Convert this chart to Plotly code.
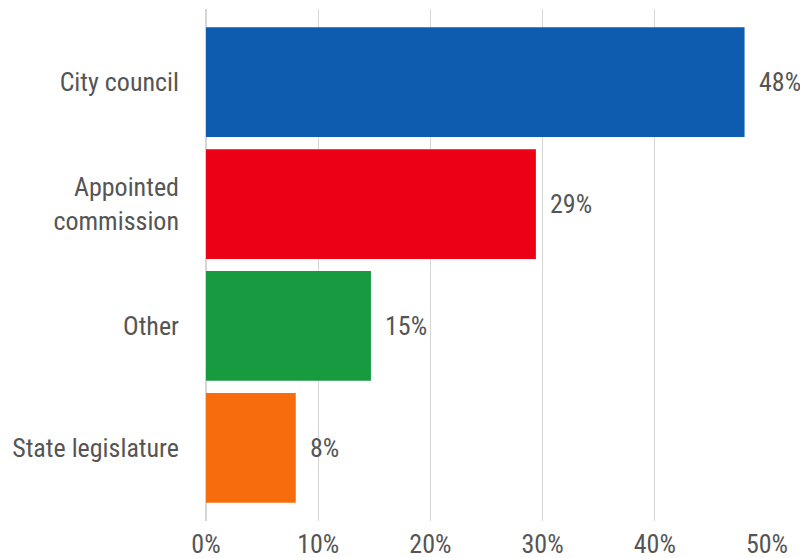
import plotly.graph_objects as go

# Who appoints the board: share of responses
categories = ["City council", "Appointed<br>commission", "Other", "State legislature"]
shares = [48.0, 29.4, 14.7, 8.0]
bar_colors = ["#0d5caf", "#ec0016", "#189a41", "#f76d0d"]
tick_values = [0, 10, 20, 30, 40, 50]
tick_labels = ["0%", "10%", "20%", "30%", "40%", "50%"]

FONT = "Roboto Condensed, Roboto, sans-serif"
TEXT_COLOR = "#555555"
SIZE = 26

fig = go.Figure(
    go.Bar(
        x=shares,
        y=categories,
        orientation="h",
        marker=dict(color=bar_colors, line=dict(width=0)),
        hoverinfo="skip",
    )
)

# value labels just past the end of each bar
for cat, v in zip(categories, shares):
    fig.add_annotation(
        x=v, y=cat, text=f"{round(v)}%",
        xanchor="left", yanchor="middle", xshift=12,
        showarrow=False,
        font=dict(family=FONT, size=SIZE, color=TEXT_COLOR),
    )

fig.update_layout(
    width=800, height=558,
    margin=dict(l=206, r=33, t=9, b=37, autoexpand=False),
    paper_bgcolor="white", plot_bgcolor="white",
    bargap=0.1,
    showlegend=False,
    font=dict(family=FONT, size=SIZE, color=TEXT_COLOR),
)
fig.update_xaxes(
    range=[0, 50],
    tickvals=tick_values, ticktext=tick_labels,
    showgrid=True, gridcolor="#d6d6d6", gridwidth=1,
    zeroline=True, zerolinecolor="#d6d6d6", zerolinewidth=2,
    showline=False, ticks="",
    automargin=False,
    ticklabelstandoff=5,
    tickfont=dict(family=FONT, size=SIZE, color=TEXT_COLOR),
    fixedrange=True,
)
fig.update_yaxes(
    range=[3.6, -0.6],
    automargin=False,
    showgrid=False, zeroline=False, showline=False, ticks="",
    ticklabelstandoff=26,
    tickfont=dict(family=FONT, size=SIZE, color=TEXT_COLOR),
    fixedrange=True,
)

fig.write_html("out.html")
